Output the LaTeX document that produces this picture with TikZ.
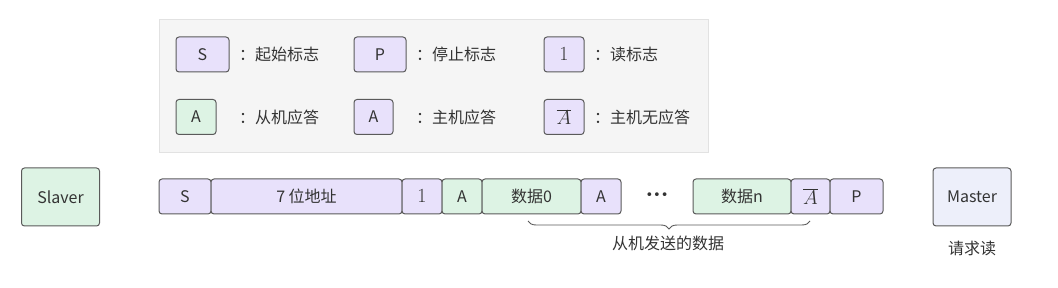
\RequirePackage{fix-cm}
\documentclass[tikz,border=0pt]{standalone}
\usepackage[no-math]{fontspec}
\setmainfont{Noto Sans CJK SC}
\newfontfamily\dotfont{DejaVu Sans}
\usetikzlibrary{decorations.pathreplacing}

\definecolor{slotpurple}{HTML}{E8E1FB}
\definecolor{slotgreen}{HTML}{DDF3E4}
\definecolor{masterfill}{HTML}{EDEFFA}
\definecolor{edgegray}{HTML}{5A5A5A}
\definecolor{textgray}{HTML}{333333}
\definecolor{legendbg}{HTML}{F5F5F5}
\definecolor{legendedge}{HTML}{E2E2E2}

\begin{document}
\begin{tikzpicture}[
        x=1pt, y=-1pt,
        every node/.style={
            font=\fontsize{16}{19}\selectfont,
            text=textgray,
            inner sep=0pt
        },
        slot/.style={
            draw=edgegray,
            line width=1pt,
            rounded corners=3pt,
            minimum height=35pt
        },
        mstslot/.style={slot, fill=slotpurple},
        slvslot/.style={slot, fill=slotgreen},
        mathslot/.style={mstslot, font=\fontsize{20}{24}\selectfont},
        keytext/.style={anchor=west}
    ]

        \useasboundingbox (0,0) rectangle (1058,288);

        % legend
        \node[draw=legendedge, fill=legendbg, minimum width=549pt, minimum height=133pt] (legend) at (433.5,85.5) {};

        \node[mstslot, minimum width=53pt] (keystart) at (202.5,54.5) {S};
        \node[keytext] (keystarttext) at (239,54.5) {：起始标志};

        \node[mstslot, minimum width=52pt] (keystop) at (380,54.5) {P};
        \node[keytext] (keystoptext) at (416,54.5) {：停止标志};

        \node[mathslot, minimum width=40pt] (keyread) at (564,54.5) {$1$};
        \node[keytext] (keyreadtext) at (594,54.5) {：读标志};

        \node[slvslot, minimum width=40pt] (keyackslv) at (196,117) {A};
        \node[keytext] (keyackslvtext) at (239,117) {：从机应答};

        \node[mstslot, minimum width=39pt] (keyackmst) at (373.5,117) {A};
        \node[keytext] (keyackmsttext) at (416,117) {：主机应答};

        \node[mathslot, minimum width=40pt] (keynack) at (564,117) {$\overline{A}$};
        \node[keytext] (keynacktext) at (594,117) {：主机无应答};

        % devices
        \node[slot, fill=slotgreen, minimum width=78pt, minimum height=58pt] (slaver) at (60.5,197) {Slaver};
        \node[slot, fill=masterfill, minimum width=78pt, minimum height=58pt] (master) at (972,197) {Master};
        \node (request) at (972,248) {请求读};

        % frame
        \node[mstslot, minimum width=52pt] (start) at (185,196.5) {S};
        \node[mstslot, minimum width=191pt] (addr) at (306.5,196.5) {7 位地址};
        \node[mathslot, minimum width=40pt] (read) at (422,196.5) {$1$};
        \node[slvslot, minimum width=40pt] (ackslv) at (462,196.5) {A};
        \node[slvslot, minimum width=99pt] (data0) at (531.5,196.5) {数据0};
        \node[mstslot, minimum width=40pt] (ackmst) at (601,196.5) {A};
        \node[font=\dotfont\fontsize{13}{16}\selectfont] (dots) at (657,196.5) {•••};
        \node[slvslot, minimum width=98pt] (datan) at (742,196.5) {数据n};
        \node[mathslot, minimum width=39pt] (nack) at (810.5,196.5) {$\overline{A}$};
        \node[mstslot, minimum width=53pt] (stop) at (856.5,196.5) {P};

        \coordinate (braceleft) at (528,221);
        \coordinate (braceright) at (810,221);
        \node (sent) at (668,243) {从机发送的数据};

        \draw[draw=edgegray, line width=0.9pt, decorate, decoration={brace, mirror, amplitude=8pt}] (braceleft) -- (braceright);

    \end{tikzpicture}
\end{document}
